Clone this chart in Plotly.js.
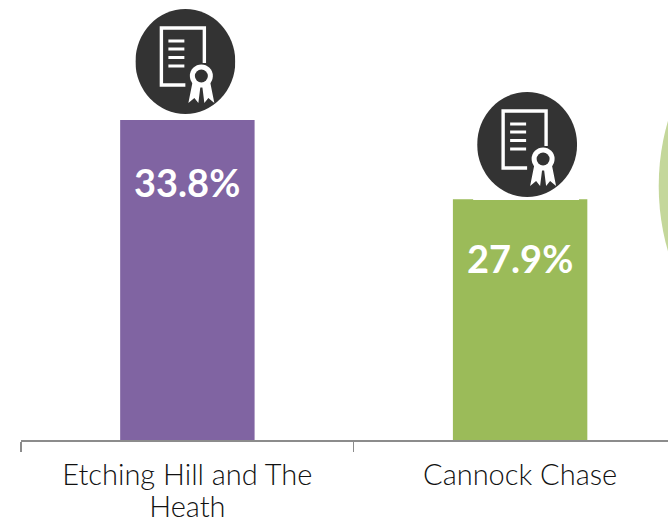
<!DOCTYPE html>
<html><head><meta charset="utf-8">
<script src="https://cdn.plot.ly/plotly-3.0.0.min.js"></script>
<style>html,body{margin:0;padding:0;background:#fff;overflow:hidden}</style>
</head><body><div id="c" style="width:668px;height:517px"></div>
<script>
const categories = ["Etching Hill and The<br>Heath", "Cannock Chase"];
const values = [33.8, 27.9];
const valueLabels = ["33.8%", "27.9%"];
const barColors = ["#8064A2", "#9BBB59"];
const icon = 'data:image/svg+xml;base64,' + btoa(
`<svg xmlns="http://www.w3.org/2000/svg" viewBox="0 0 100 105" width="200" height="210">
<ellipse cx="50" cy="52.5" rx="50" ry="52.5" fill="#333333"/>
<g fill="none" stroke="#ffffff" stroke-width="3.4">
<path d="M50 76 H26 V19 H69 V54"/>
<path d="M33 32H49M33 40H49M33 48.5H49M33 57H49" stroke-width="2.8"/>
</g>
<path d="M57 74 L53 94 L59 89 L63 94 L65 78 L67 78 L69 94 L73 89 L79 94 L75 74 Z" fill="#ffffff"/>
<circle cx="66" cy="67" r="11.5" fill="#ffffff"/>
<circle cx="66" cy="67" r="6.5" fill="#333333"/>
</svg>`);
const yMin = 10, yMax = 42.72;
const px = yMax - yMin;
const pxToY = p => yMin + (440 - p) / 440 * px;
const pxToX = p => -0.5 + (p - 20.5) / 333;
const paperX = p => (p - 20.5) / 647.5;
const paperY = p => (440 - p) / 440;
Plotly.newPlot('c', [{
  type: 'bar', x: [0, 1], y: values, base: 0, width: 0.404,
  marker: {color: barColors, line: {width: 0}},
  hoverinfo: 'skip'
}], {
  width: 668, height: 517,
  margin: {l: 20.5, r: 0, t: 0, b: 77},
  paper_bgcolor: '#fff', plot_bgcolor: '#fff',
  showlegend: false,
  xaxis: {
    type: 'linear', range: [-0.5, pxToX(668)], showgrid: false, zeroline: false,
    showline: true, linecolor: '#8c8c8c', linewidth: 1.5,
    tickmode: 'array', tickvals: [0, 1], ticktext: categories,
    ticks: '', ticklen: 0, ticklabelstandoff: 9,
    tickfont: {family: 'Lato, sans-serif', size: 29, weight: 300, color: '#111111'},
    minor: {tickmode: 'array', tickvals: [-0.5, 0.5], ticks: 'outside', ticklen: 10, tickcolor: '#8c8c8c', tickwidth: 1.5, showgrid: false}
  },
  yaxis: {range: [yMin, yMax], visible: false, fixedrange: true},
  annotations: values.map((v, i) => ({
    x: i, y: v, xref: 'x', yref: 'y', text: '<b>' + valueLabels[i] + '</b>', showarrow: false,
    yshift: [-62, -59][i], font: {family: 'Lato, sans-serif', size: 38, color: '#fff'}
  })),
  images: [
    {source: icon, xref: 'x', yref: 'y', x: pxToX(135), y: pxToY(9), sizex: 100/333, sizey: 105/440*px, sizing: 'stretch', xanchor: 'left', yanchor: 'top', layer: 'above'},
    {source: icon, xref: 'x', yref: 'y', x: pxToX(477), y: pxToY(92), sizex: 100/333, sizey: 105/440*px, sizing: 'stretch', xanchor: 'left', yanchor: 'top', layer: 'above'}
  ],
  shapes: [
    {type: 'circle', xref: 'paper', yref: 'paper', x0: paperX(658.7), x1: paperX(1126.7), y0: paperY(420), y1: paperY(-48), fillcolor: '#C4D79B', line: {width: 0}, layer: 'below'},
    {type: 'rect', xref: 'paper', yref: 'paper', x0: paperX(473), x1: paperX(579), y0: paperY(200), y1: paperY(199), fillcolor: '#ffffff', line: {width: 0}, layer: 'above'}
  ]
}, {displayModeBar: false, staticPlot: true}).then(() => {
  document.querySelectorAll('.xtick tspan.line').forEach(t => {
    if (parseFloat(t.getAttribute('dy')) > 0) t.setAttribute('dy', '1.08em');
  });
});
</script></body></html>
